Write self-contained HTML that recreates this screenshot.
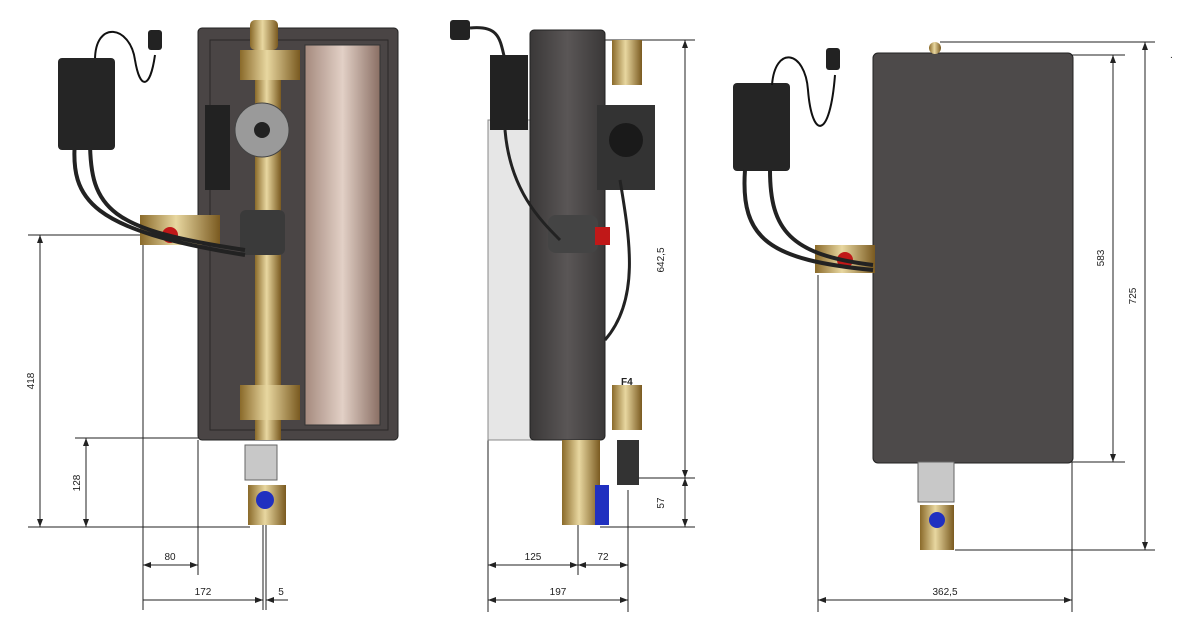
<!DOCTYPE html>
<html><head><meta charset="utf-8"><style>
html,body{margin:0;padding:0;background:#fff;width:1177px;height:627px;overflow:hidden}
svg{display:block}
text{font-family:"Liberation Sans",sans-serif;font-size:10px;fill:#222}
</style></head><body>
<svg width="1177" height="627" viewBox="0 0 1177 627" xmlns="http://www.w3.org/2000/svg">
<defs>
<linearGradient id="cu" x1="0" x2="1"><stop offset="0" stop-color="#a58a7e"/><stop offset=".5" stop-color="#e2d0c6"/><stop offset="1" stop-color="#8a6f64"/></linearGradient>
<linearGradient id="br" x1="0" x2="1"><stop offset="0" stop-color="#8a6a2a"/><stop offset=".45" stop-color="#e8d7a0"/><stop offset="1" stop-color="#7a5a20"/></linearGradient>
<linearGradient id="dk" x1="0" x2="1"><stop offset="0" stop-color="#3a3838"/><stop offset=".5" stop-color="#5a5656"/><stop offset="1" stop-color="#3a3838"/></linearGradient>
<marker id="a" markerWidth="8" markerHeight="6" refX="8" refY="3" orient="auto-start-reverse"><path d="M0,0 L8,3 L0,6z" fill="#222"/></marker>
</defs>
<g stroke="#222" stroke-width="1" fill="none">
<!-- left view dims -->
<line x1="28" y1="235" x2="210" y2="235"/><line x1="28" y1="527" x2="250" y2="527"/>
<line x1="40" y1="235" x2="40" y2="527" marker-start="url(#a)" marker-end="url(#a)"/>
<line x1="75" y1="438" x2="200" y2="438"/>
<line x1="86" y1="438" x2="86" y2="527" marker-start="url(#a)" marker-end="url(#a)"/>
<line x1="143" y1="245" x2="143" y2="610"/><line x1="198" y1="440" x2="198" y2="575"/>
<line x1="143" y1="565" x2="198" y2="565" marker-start="url(#a)" marker-end="url(#a)"/>
<line x1="263" y1="525" x2="263" y2="610"/><line x1="266" y1="525" x2="266" y2="610"/>
<line x1="143" y1="600" x2="263" y2="600" marker-end="url(#a)"/>
<line x1="266" y1="600" x2="288" y2="600" marker-start="url(#a)"/>
<!-- middle dims -->
<line x1="600" y1="40" x2="695" y2="40"/><line x1="620" y1="478" x2="695" y2="478"/><line x1="600" y1="527" x2="695" y2="527"/>
<line x1="685" y1="40" x2="685" y2="478" marker-start="url(#a)" marker-end="url(#a)"/>
<line x1="685" y1="478" x2="685" y2="527" marker-start="url(#a)" marker-end="url(#a)"/>
<line x1="488" y1="440" x2="488" y2="612"/><line x1="578" y1="525" x2="578" y2="575"/><line x1="628" y1="490" x2="628" y2="612"/>
<line x1="488" y1="565" x2="578" y2="565" marker-start="url(#a)" marker-end="url(#a)"/>
<line x1="578" y1="565" x2="628" y2="565" marker-start="url(#a)" marker-end="url(#a)"/>
<line x1="488" y1="600" x2="628" y2="600" marker-start="url(#a)" marker-end="url(#a)"/>
<!-- right dims -->
<line x1="940" y1="42" x2="1155" y2="42"/><line x1="1070" y1="55" x2="1125" y2="55"/><line x1="1070" y1="462" x2="1125" y2="462"/><line x1="955" y1="550" x2="1155" y2="550"/>
<line x1="1113" y1="55" x2="1113" y2="462" marker-start="url(#a)" marker-end="url(#a)"/>
<line x1="1145" y1="42" x2="1145" y2="550" marker-start="url(#a)" marker-end="url(#a)"/>
<line x1="818" y1="275" x2="818" y2="612"/><line x1="1072" y1="462" x2="1072" y2="612"/>
<line x1="818" y1="600" x2="1072" y2="600" marker-start="url(#a)" marker-end="url(#a)"/>
</g>
<text x="34" y="381" transform="rotate(-90 34 381)" text-anchor="middle">418</text>
<text x="80" y="483" transform="rotate(-90 80 483)" text-anchor="middle">128</text>
<text x="170" y="560" text-anchor="middle">80</text>
<text x="203" y="595" text-anchor="middle">172</text>
<text x="281" y="595" text-anchor="middle">5</text>
<text x="664" y="260" transform="rotate(-90 664 260)" text-anchor="middle">642,5</text>
<text x="664" y="503" transform="rotate(-90 664 503)" text-anchor="middle">57</text>
<text x="533" y="560" text-anchor="middle">125</text>
<text x="603" y="560" text-anchor="middle">72</text>
<text x="558" y="595" text-anchor="middle">197</text>
<text x="1104" y="258" transform="rotate(-90 1104 258)" text-anchor="middle">583</text>
<text x="1136" y="296" transform="rotate(-90 1136 296)" text-anchor="middle">725</text>
<text x="945" y="595" text-anchor="middle">362,5</text>
<text x="1170" y="58">.</text>

<!-- LEFT VIEW -->
<rect x="198" y="28" width="200" height="412" rx="4" fill="#4a4545" stroke="#222"/>
<rect x="210" y="40" width="178" height="390" fill="none" stroke="#2a2828"/>
<rect x="305" y="45" width="75" height="380" fill="url(#cu)" stroke="#333"/>
<rect x="255" y="60" width="26" height="380" fill="url(#br)"/>
<rect x="240" y="50" width="60" height="30" fill="url(#br)"/>
<rect x="240" y="385" width="60" height="35" fill="url(#br)"/>
<rect x="250" y="20" width="28" height="30" rx="5" fill="url(#br)"/>
<circle cx="262" cy="130" r="27" fill="#9a9a9a" stroke="#444"/>
<circle cx="262" cy="130" r="8" fill="#222"/>
<rect x="205" y="105" width="25" height="85" fill="#222"/>
<rect x="240" y="210" width="45" height="45" rx="6" fill="#3a3a3a"/>
<rect x="140" y="215" width="80" height="30" fill="url(#br)"/>
<circle cx="170" cy="235" r="8" fill="#c01818"/>
<rect x="245" y="445" width="32" height="35" fill="#c8c8c8" stroke="#666"/>
<rect x="248" y="485" width="38" height="40" fill="url(#br)"/>
<circle cx="265" cy="500" r="9" fill="#2030c0"/>
<path d="M75,140 C70,200 90,230 245,255 M90,140 C90,210 110,230 245,250" stroke="#222" stroke-width="4" fill="none"/>
<path d="M95,60 C95,20 130,25 135,60 C140,90 150,90 155,55" stroke="#111" stroke-width="2" fill="none"/>
<rect x="148" y="30" width="14" height="20" rx="3" fill="#222"/>
<rect x="58" y="58" width="57" height="92" rx="4" fill="#252525"/>

<!-- MIDDLE VIEW -->
<rect x="488" y="120" width="45" height="320" fill="#e6e6e6" stroke="#888"/>
<rect x="530" y="30" width="75" height="410" rx="4" fill="url(#dk)" stroke="#222"/>
<rect x="597" y="105" width="58" height="85" fill="#333"/>
<circle cx="626" cy="140" r="17" fill="#1a1a1a"/>
<rect x="612" y="40" width="30" height="45" fill="url(#br)"/>
<rect x="612" y="385" width="30" height="45" fill="url(#br)"/>
<rect x="617" y="440" width="22" height="45" fill="#333"/>
<rect x="562" y="440" width="38" height="85" fill="url(#br)"/>
<rect x="595" y="485" width="14" height="40" fill="#2030c0"/>
<rect x="548" y="215" width="50" height="38" rx="8" fill="#444"/>
<rect x="595" y="227" width="15" height="18" fill="#c01818"/>
<rect x="490" y="55" width="38" height="75" fill="#222"/>
<rect x="450" y="20" width="20" height="20" rx="3" fill="#222"/>
<path d="M470,28 C500,25 500,40 505,60 M505,130 C510,190 540,220 560,240 M620,180 C630,240 640,300 605,340" stroke="#222" stroke-width="3" fill="none"/>
<text x="621" y="385" style="font-weight:bold">F4</text>

<!-- RIGHT VIEW -->
<rect x="873" y="53" width="200" height="410" rx="5" fill="#4d4a4a" stroke="#222"/>
<circle cx="935" cy="48" r="6" fill="url(#br)"/>
<rect x="918" y="462" width="36" height="40" fill="#c8c8c8" stroke="#666"/>
<rect x="920" y="505" width="34" height="45" fill="url(#br)"/>
<circle cx="937" cy="520" r="8" fill="#2030c0"/>
<rect x="815" y="245" width="60" height="28" fill="url(#br)"/>
<circle cx="845" cy="260" r="8" fill="#c01818"/>
<rect x="733" y="83" width="57" height="88" rx="4" fill="#252525"/>
<path d="M745,170 C740,240 770,260 873,270 M770,170 C770,230 790,255 873,265" stroke="#222" stroke-width="4" fill="none"/>
<path d="M772,85 C775,45 805,50 808,90 C812,140 830,140 835,75" stroke="#111" stroke-width="2" fill="none"/>
<rect x="826" y="48" width="14" height="22" rx="3" fill="#222"/>
</svg>
</body></html>
